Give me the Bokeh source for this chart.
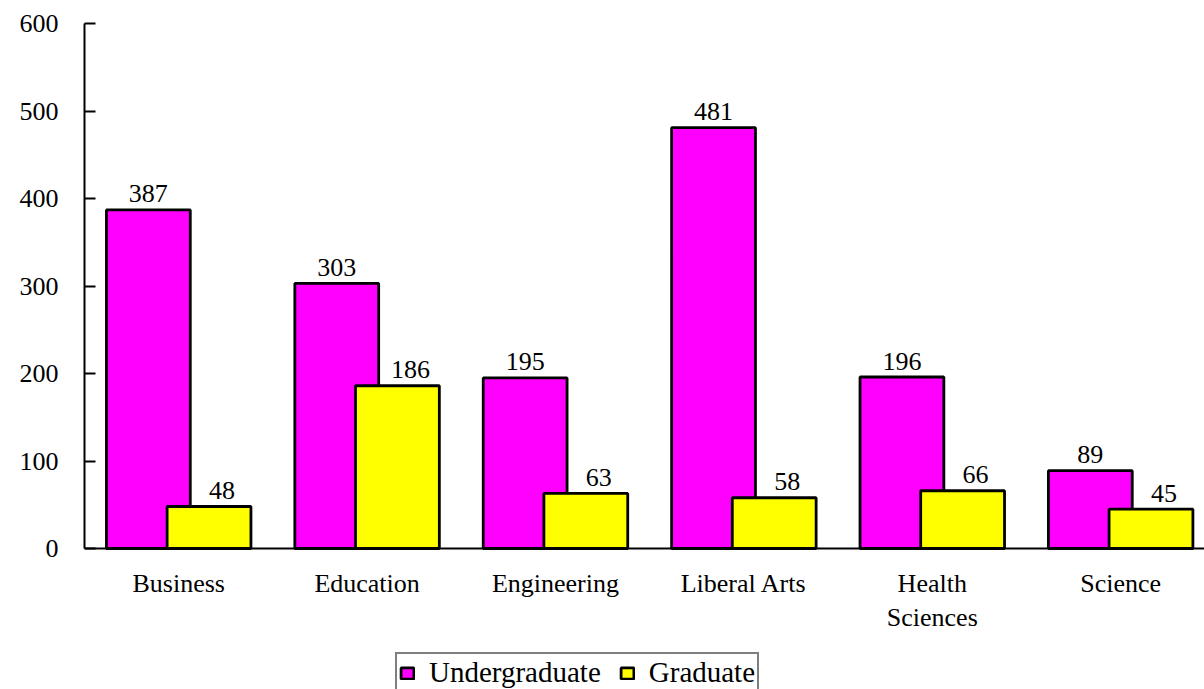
from bokeh.plotting import figure
from bokeh.models import Range1d, FixedTicker, Legend, LegendItem, ColumnDataSource
from bokeh.transform import dodge
from bokeh.core.properties import value
from bokeh.embed import file_html
from bokeh.resources import INLINE

categories = ["Business", "Education", "Engineering", "Liberal Arts", "Health\nSciences", "Science"]
undergraduate = [387, 303, 195, 481, 196, 89]
graduate = [48, 186, 63, 58, 66, 45]
series_names = ["Undergraduate", "Graduate"]
y_ticks = [0, 100, 200, 300, 400, 500, 600]

FONT = "Liberation Serif"
FS = "26px"
MAGENTA = "#FF00FF"
YELLOW = "#FFFF00"

pos = list(range(len(categories)))
src = ColumnDataSource(dict(
    x=pos,
    ug=undergraduate,
    gr=graduate,
    ug_lbl=[str(v) for v in undergraduate],
    gr_lbl=[str(v) for v in graduate],
))

# frame spans from y=23 to the bottom of the page; the value axis runs 0..600 over 525 px
p = figure(width=1204, height=689, output_backend="svg", toolbar_location=None,
           x_range=Range1d(-0.5, 5.445), y_range=Range1d(-161.14, 600),
           min_border_left=84, min_border_right=0, min_border_top=23, min_border_bottom=0)
p.outline_line_color = None
p.grid.visible = False
p.background_fill_color = "white"
p.border_fill_color = "white"

r1 = p.vbar(x=dodge("x", -0.161, range=p.x_range), top="ug", width=0.445, bottom=0,
            source=src, fill_color=MAGENTA, line_color="black", line_width=2.8)
r2 = p.vbar(x=dodge("x", 0.161, range=p.x_range), top="gr", width=0.445, bottom=0,
            source=src, fill_color=YELLOW, line_color="black", line_width=2.8)

p.text(x=dodge("x", -0.161, range=p.x_range), y="ug", text="ug_lbl", source=src,
       text_align="center", text_baseline="alphabetic", y_offset=-16,
       text_font=value(FONT), text_font_size=FS, text_color="black")
p.text(x=dodge("x", 0.161, range=p.x_range), y="gr", text="gr_lbl", source=src,
       text_align="center", text_baseline="alphabetic", y_offset=-16, x_offset=13,
       text_font=value(FONT), text_font_size=FS, text_color="black")

# x axis, pinned at y = 0
xa = p.xaxis[0]
xa.fixed_location = 0
xa.ticker = FixedTicker(ticks=pos)
xa.major_label_overrides = {i: c for i, c in zip(pos, categories)}
xa.major_tick_in = 0
xa.major_tick_out = 0
xa.minor_tick_line_color = None
xa.axis_line_width = 2
xa.major_label_standoff = 20
xa.major_label_text_font = FONT
xa.major_label_text_font_size = FS
xa.major_label_text_color = "black"

# y axis
ya = p.yaxis[0]
ya.bounds = (0, 600)
ya.ticker = FixedTicker(ticks=y_ticks)
ya.major_tick_in = 11
ya.major_tick_out = 0
ya.major_tick_line_width = 2
ya.minor_tick_line_color = None
ya.axis_line_width = 2
ya.major_label_standoff = 26
ya.major_label_text_font = FONT
ya.major_label_text_font_size = FS
ya.major_label_text_color = "black"

legend = Legend(items=[LegendItem(label=series_names[0], renderers=[r1]),
                       LegendItem(label=series_names[1], renderers=[r2])],
                orientation="horizontal", location=(311, -4))
legend.border_line_color = "black"
legend.border_line_width = 2
legend.background_fill_color = "white"
legend.background_fill_alpha = 1
legend.padding = 2
legend.margin = 0
legend.spacing = 18
legend.label_standoff = 14
legend.glyph_width = 16
legend.glyph_height = 14
legend.label_text_font = FONT
legend.label_text_font_size = "29px"
legend.label_text_color = "black"
p.add_layout(legend)

open("out.html", "w").write(file_html(p, INLINE))
